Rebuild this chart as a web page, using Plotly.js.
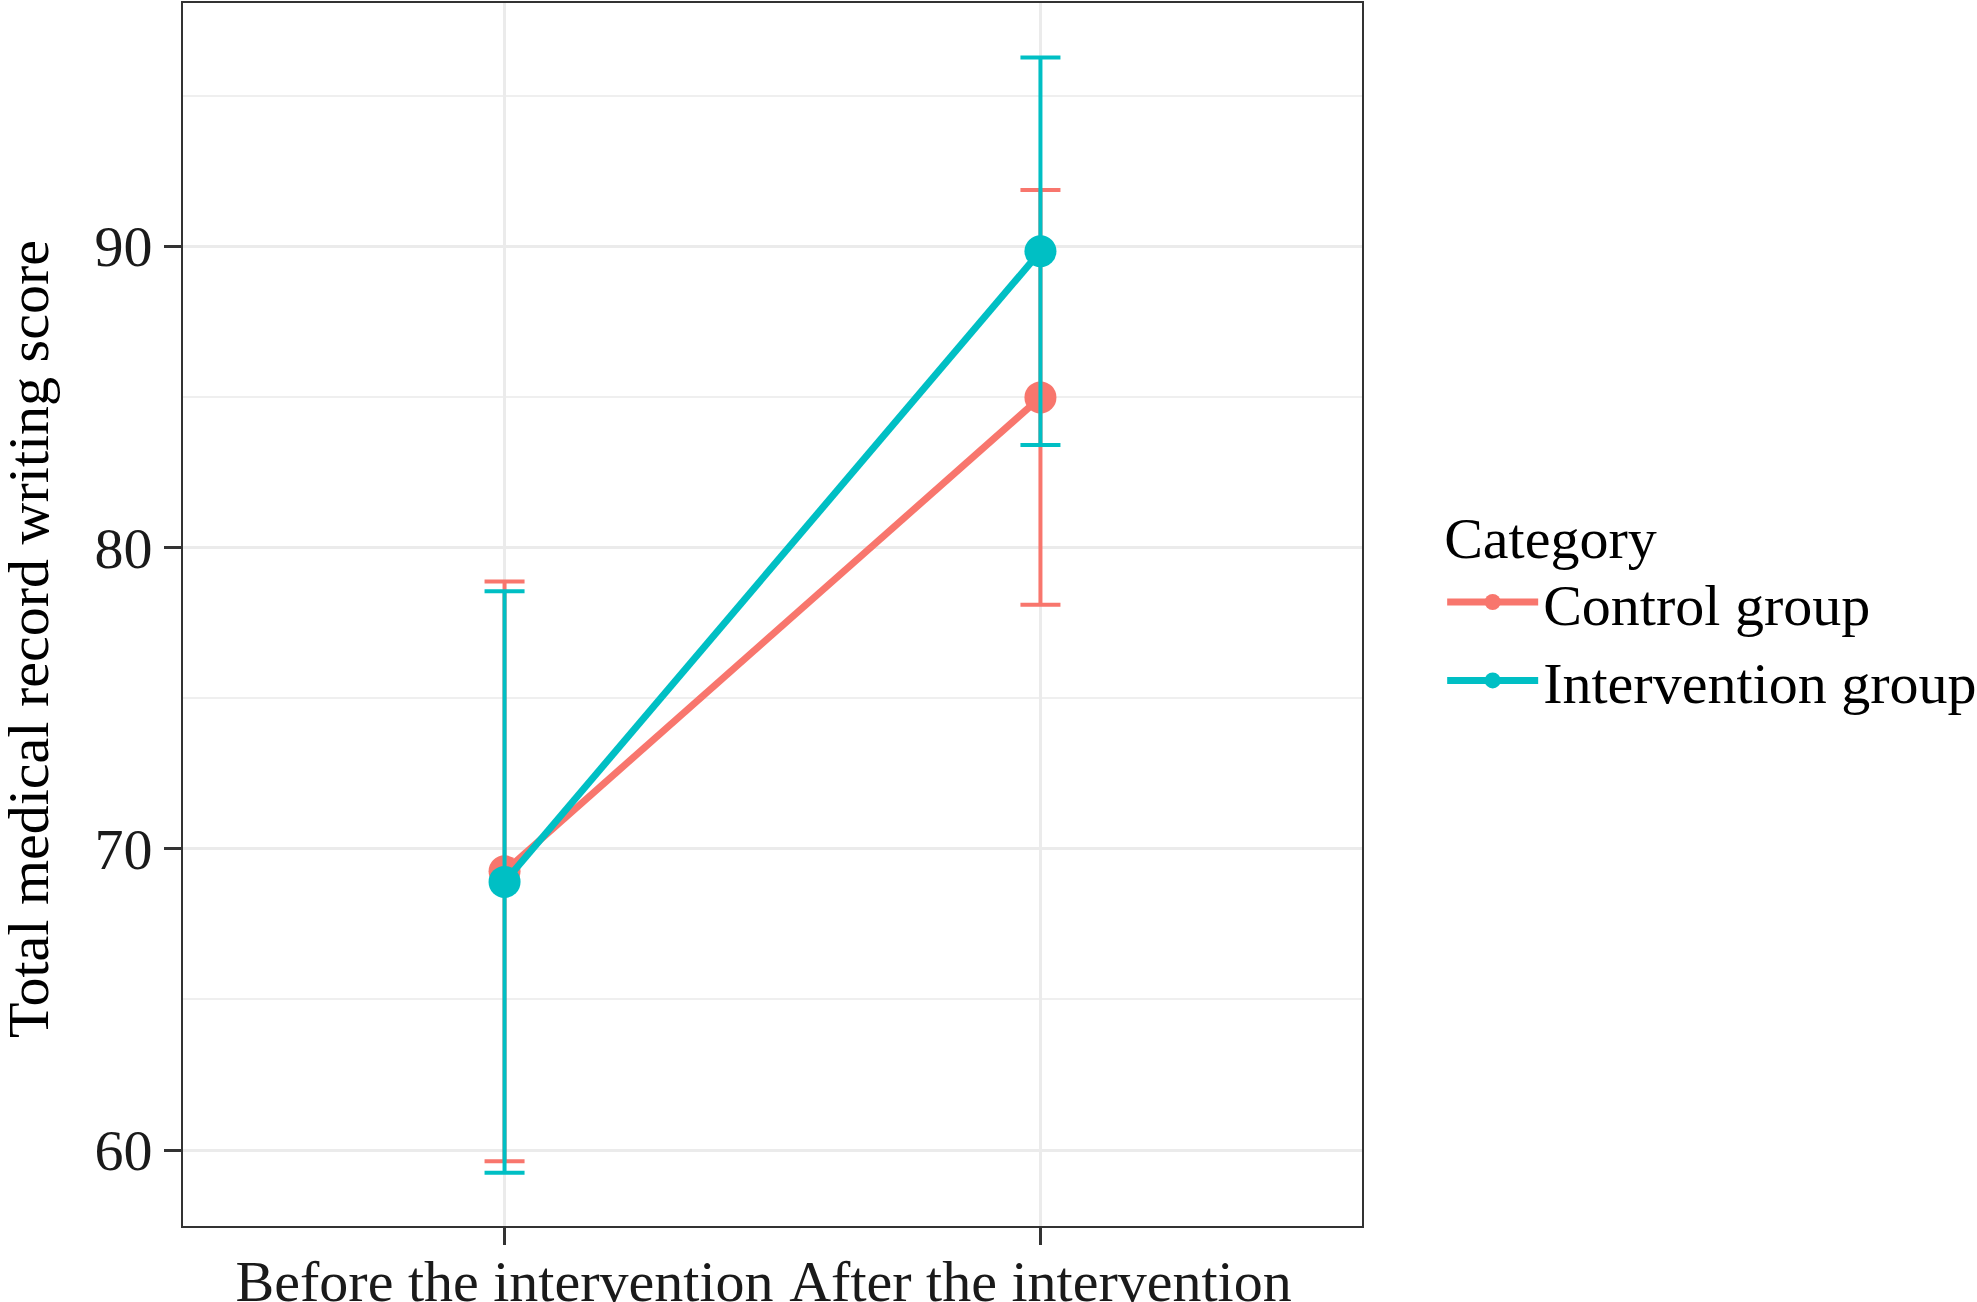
<!DOCTYPE html>
<html>
<head>
<meta charset="utf-8">
<script src="https://cdn.plot.ly/plotly-3.0.1.min.js"></script>
<style>
  html, body { margin: 0; padding: 0; background: #fff; }
  #chart { width: 1977px; height: 1302px; }
</style>
</head>
<body>
<div id="chart"></div>
<script>
// values
var phases = ['Before the intervention', 'After the intervention'];
var controlMean = [69.25, 84.98];
var controlErr = [9.62, 6.88];
var interventionMean = [68.9, 89.83];
var interventionErr = [9.65, 6.43];
var yTicks = [60, 70, 80, 90];

var red = '#F8766D';
var teal = '#00BFC4';
var serif = 'Liberation Serif, Times New Roman, serif';

function makeTrace(name, y, err, color) {
  return {
    type: 'scatter',
    mode: 'lines+markers',
    name: name,
    x: phases,
    y: y,
    line: { color: color, width: 7 },
    marker: { color: color, size: 32 },
    error_y: {
      type: 'data',
      array: err,
      visible: true,
      color: color,
      thickness: 4,
      width: 20
    }
  };
}

var traces = [
  makeTrace('Control group', controlMean, controlErr, red),
  makeTrace('Intervention group', interventionMean, interventionErr, teal)
];

var layout = {
  width: 1977,
  height: 1302,
  paper_bgcolor: '#fff',
  plot_bgcolor: '#fff',
  font: { family: serif, size: 58, color: '#1a1a1a' },
  margin: { l: 183, r: 615, t: 3, b: 76, pad: 0, autoexpand: false },
  showlegend: true,
  legend: {
    x: 1.068,
    xanchor: 'left',
    y: 0.608,
    yanchor: 'top',
    title: { text: 'Category', font: { size: 58, family: serif, color: '#000' } },
    font: { size: 58, family: serif, color: '#000' },
    tracegroupgap: 0,
    itemwidth: 91
  },
  xaxis: {
    type: 'category',
    range: [-0.6, 1.6],
    showgrid: true,
    gridcolor: '#EBEBEB',
    gridwidth: 3,
    zeroline: false,
    showline: true,
    mirror: true,
    linecolor: '#333333',
    linewidth: 2,
    ticks: 'outside',
    ticklen: 17,
    tickwidth: 3,
    tickcolor: '#333333',
    ticklabelstandoff: -14,
    tickfont: { size: 58, family: serif, color: '#1a1a1a' }
  },
  yaxis: {
    range: [57.48, 98.07],
    tickvals: yTicks,
    showgrid: true,
    gridcolor: '#EBEBEB',
    gridwidth: 3,
    minor: { dtick: 5, tick0: 0, showgrid: true, gridcolor: '#EFEFEF', gridwidth: 2 },
    zeroline: false,
    showline: true,
    mirror: true,
    linecolor: '#333333',
    linewidth: 2,
    ticks: 'outside',
    ticklen: 17,
    tickwidth: 3,
    tickcolor: '#333333',
    tickfont: { size: 58, family: serif, color: '#1a1a1a' }
  },
  // y axis title as a rotated annotation, sitting a little below the panel centre as in the original
  annotations: [{
    text: 'Total medical record writing score',
    textangle: -90,
    xref: 'paper', yref: 'paper',
    x: 0, y: 0.48,
    xanchor: 'center', yanchor: 'middle',
    xshift: -154,
    showarrow: false,
    font: { size: 58, family: serif, color: '#000' }
  }]
};

Plotly.newPlot('chart', traces, layout, { displayModeBar: false, staticPlot: true });
</script>
</body>
</html>
